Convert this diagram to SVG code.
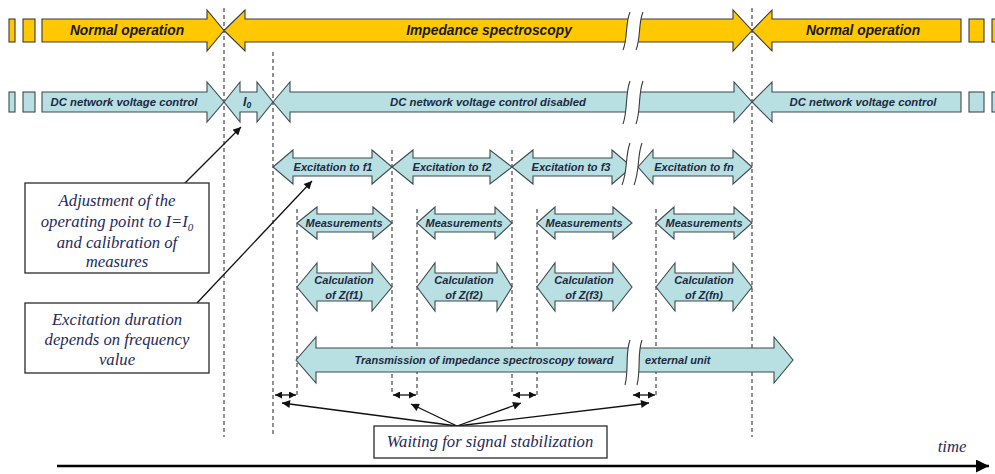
<svg xmlns="http://www.w3.org/2000/svg" width="995" height="474" viewBox="0 0 995 474">
<style>
.y{fill:#ffc800;stroke:#3a3a3a;stroke-width:1.1}
.b{fill:#b8dfe2;stroke:#3f4a4c;stroke-width:1.1}
.gap{fill:#ffffff;stroke:none}
.sl{fill:none;stroke:#3a3a3a;stroke-width:1.1}
.lt{font-family:"Liberation Sans",Arial,sans-serif;font-weight:bold;font-style:italic;text-anchor:middle;dominant-baseline:central}
.ty{font-size:13.8px;fill:#1a1a1a}
.tb{font-size:11.3px;fill:#1c2a44}
.ts{font-size:11px;fill:#1c2a44}
.an{font-family:"Liberation Serif","Times New Roman",serif;font-style:italic;font-size:16.7px;fill:#1f2a5a;text-anchor:middle}
.box{fill:#ffffff;stroke:#2a2a2a;stroke-width:1.3}
.dl{stroke:#222;stroke-width:1;stroke-dasharray:4,3;fill:none}
.ar{stroke:#111;stroke-width:1.3;fill:none}
</style>
<defs>
<marker id="ah" viewBox="0 0 10 10" refX="10" refY="5" markerUnits="userSpaceOnUse" markerWidth="9" markerHeight="8" orient="auto-start-reverse"><path d="M0,0 L10,5 L0,10 Z" fill="#111"/></marker>
<marker id="sh" viewBox="0 0 10 10" refX="10" refY="5" markerUnits="userSpaceOnUse" markerWidth="7" markerHeight="7" orient="auto-start-reverse"><path d="M0,0 L10,5 L0,10 Z" fill="#111"/></marker>
<marker id="th" viewBox="0 0 10 10" refX="10" refY="5" markerUnits="userSpaceOnUse" markerWidth="14" markerHeight="13" orient="auto"><path d="M0,0 L10,5 L0,10 Z" fill="#000"/></marker>
</defs>

<g id="connectors">
<line class="dl" x1="224" y1="8" x2="224" y2="437"/>
<line class="dl" x1="273" y1="52" x2="273" y2="437"/>
<line class="dl" x1="752" y1="8" x2="752" y2="437"/>
<line class="dl" x1="297" y1="209" x2="297" y2="395"/>
<line class="dl" x1="392" y1="150" x2="392" y2="395"/>
<line class="dl" x1="417" y1="209" x2="417" y2="395"/>
<line class="dl" x1="512" y1="150" x2="512" y2="395"/>
<line class="dl" x1="537" y1="209" x2="537" y2="395"/>
<line class="dl" x1="656" y1="209" x2="656" y2="395"/>
<line class="ar" x1="185" y1="183" x2="241" y2="127" marker-end="url(#ah)"/>
<line class="ar" x1="197" y1="303" x2="312" y2="181" marker-end="url(#ah)"/>
<line class="ar" x1="275" y1="395" x2="296" y2="395" marker-start="url(#sh)" marker-end="url(#sh)"/>
<line class="ar" x1="393" y1="395" x2="416" y2="395" marker-start="url(#sh)" marker-end="url(#sh)"/>
<line class="ar" x1="513" y1="395" x2="536" y2="395" marker-start="url(#sh)" marker-end="url(#sh)"/>
<line class="ar" x1="633" y1="395" x2="655" y2="395" marker-start="url(#sh)" marker-end="url(#sh)"/>
<line class="ar" x1="457" y1="426" x2="282" y2="403" marker-end="url(#ah)"/>
<line class="ar" x1="457" y1="426" x2="411" y2="404" marker-end="url(#ah)"/>
<line class="ar" x1="457" y1="426" x2="521" y2="403" marker-end="url(#ah)"/>
<line class="ar" x1="457" y1="426" x2="649" y2="403" marker-end="url(#ah)"/>
<line x1="57" y1="466" x2="989" y2="466" stroke="#000" stroke-width="2.4" marker-end="url(#th)"/>
</g>

<g id="top-row">
<rect class="y" x="9" y="19" width="6" height="23"/>
<rect class="y" x="23" y="19" width="12" height="23"/>
<rect class="y" x="969" y="19" width="15" height="23"/>
<rect class="y" x="992" y="19" width="10" height="23"/>
</g>
<g id="normal-operation-1">
<path class="y" d="M42,19 L207,19 L207,10 L224,30.5 L207,51 L207,42 L42,42 Z"/>
<text class="lt ty" x="127" y="30.5">Normal operation</text>
</g>
<g id="impedance-spectroscopy">
<path class="y" d="M224,30.5 L245,10 L245,19 L733,19 L733,10 L752,30.5 L733,51 L733,42 L245,42 L245,51 Z"/>
<path class="gap" d="M630,12 C625,24 628,38 623,50 L636,50 C641,38 638,24 643,12 Z"/>
<path class="sl" d="M630,12 C625,24 628,38 623,50 M643,12 C638,24 641,38 636,50"/>
<text class="lt ty" x="489" y="30.5">Impedance spectroscopy</text>
</g>
<g id="normal-operation-2">
<path class="y" d="M752,30.5 L772,10 L772,19 L961,19 L961,42 L772,42 L772,51 Z"/>
<text class="lt ty" x="863" y="30.5">Normal operation</text>
</g>

<g id="second-row">
<rect class="b" x="9" y="92" width="6" height="20"/>
<rect class="b" x="23" y="92" width="12" height="20"/>
<rect class="b" x="969" y="92" width="15" height="20"/>
<rect class="b" x="992" y="92" width="10" height="20"/>
</g>
<g id="dc-control-1">
<path class="b" d="M42,92 L207,92 L207,82 L224,102 L207,122 L207,112 L42,112 Z"/>
<text class="lt tb" x="124" y="102">DC network voltage control</text>
</g>
<g id="i0">
<path class="b" d="M224,102 L240,82 L240,92 L257,92 L257,82 L273,102 L257,122 L257,112 L240,112 L240,122 Z"/>
<text class="lt" x="247" y="102" font-size="12.5" fill="#1c2a44">I<tspan font-size="8.5" dy="3">0</tspan></text>
</g>
<g id="dc-control-disabled">
<path class="b" d="M273,102 L290,82 L290,92 L734,92 L734,82 L752,102 L734,122 L734,112 L290,112 L290,122 Z"/>
<path class="gap" d="M630,81 C625,94 628,110 623,124 L636,124 C641,110 638,94 643,81 Z"/>
<path class="sl" d="M630,81 C625,94 628,110 623,124 M643,81 C638,94 641,110 636,124"/>
<text class="lt tb" x="488" y="102">DC network voltage control disabled</text>
</g>
<g id="dc-control-2">
<path class="b" d="M752,102 L772,82 L772,92 L961,92 L961,112 L772,112 L772,122 Z"/>
<text class="lt tb" x="863" y="102">DC network voltage control</text>
</g>

<g id="excitation-f1">
<path class="b" d="M273,167 L293,150 L293,158 L372,158 L372,150 L392,167 L372,184 L372,176 L293,176 L293,184 Z"/>
<text class="lt ts" x="333" y="167">Excitation to f1</text>
</g>
<g id="excitation-f2">
<path class="b" d="M392,167 L413,150 L413,158 L490,158 L490,150 L512,167 L490,184 L490,176 L413,176 L413,184 Z"/>
<text class="lt ts" x="452" y="167">Excitation to f2</text>
</g>
<g id="excitation-f3">
<path class="b" d="M512,167 L533,150 L533,158 L612,158 L612,150 L632,167 L612,184 L612,176 L533,176 L533,184 Z"/>
<text class="lt ts" x="571" y="167">Excitation to f3</text>
</g>
<g id="excitation-fn">
<path class="b" d="M638,167 L653,150 L653,158 L733,158 L733,150 L752,167 L733,184 L733,176 L653,176 L653,184 Z"/>
<path class="gap" d="M630,143 C625,156 628,170 622,185 L634,185 C640,170 637,156 642,143 Z"/>
<path class="sl" d="M630,143 C625,156 628,170 622,185 M642,143 C637,156 640,170 634,185"/>
<text class="lt ts" x="694" y="167">Excitation to fn</text>
</g>

<g id="measurements-f1">
<path class="b" d="M297,223 L317,207 L317,214 L373,214 L373,207 L392,223 L373,239 L373,232 L317,232 L317,239 Z"/>
<text class="lt ts" x="344" y="223">Measurements</text>
</g>
<g id="measurements-f2">
<path class="b" d="M417,223 L435,207 L435,214 L495,214 L495,207 L512,223 L495,239 L495,232 L435,232 L435,239 Z"/>
<text class="lt ts" x="464" y="223">Measurements</text>
</g>
<g id="measurements-f3">
<path class="b" d="M537,223 L555,207 L555,214 L613,214 L613,207 L632,223 L613,239 L613,232 L555,232 L555,239 Z"/>
<text class="lt ts" x="584" y="223">Measurements</text>
</g>
<g id="measurements-fn">
<path class="b" d="M656,223 L674,207 L674,214 L734,214 L734,207 L752,223 L734,239 L734,232 L674,232 L674,239 Z"/>
<text class="lt ts" x="704" y="223">Measurements</text>
</g>

<g id="calculation-f1">
<path class="b" d="M297,287 L317,263 L317,273 L372,273 L372,263 L392,287 L372,311 L372,301 L317,301 L317,311 Z"/>
<text class="lt ts" x="344" y="280">Calculation</text>
<text class="lt ts" x="344" y="295">of Z(f1)</text>
</g>
<g id="calculation-f2">
<path class="b" d="M417,287 L435,263 L435,273 L497,273 L497,263 L512,287 L497,311 L497,301 L435,301 L435,311 Z"/>
<text class="lt ts" x="464" y="280">Calculation</text>
<text class="lt ts" x="464" y="295">of Z(f2)</text>
</g>
<g id="calculation-f3">
<path class="b" d="M537,287 L555,263 L555,273 L613,273 L613,263 L632,287 L613,311 L613,301 L555,301 L555,311 Z"/>
<text class="lt ts" x="584" y="280">Calculation</text>
<text class="lt ts" x="584" y="295">of Z(f3)</text>
</g>
<g id="calculation-fn">
<path class="b" d="M656,287 L675,263 L675,273 L733,273 L733,263 L752,287 L733,311 L733,301 L675,301 L675,311 Z"/>
<text class="lt ts" x="704" y="280">Calculation</text>
<text class="lt ts" x="704" y="295">of Z(fn)</text>
</g>

<g id="transmission">
<path class="b" d="M296,360 L316,337 L316,348 L774,348 L774,337 L793,360 L774,383 L774,372 L316,372 L316,383 Z"/>
<path class="gap" d="M630,340 C625,353 629,370 625,385 L637,385 C641,370 637,353 642,340 Z"/>
<path class="sl" d="M630,340 C625,353 629,370 625,385 M642,340 C637,353 641,370 637,385"/>
<text class="lt ts" x="484" y="360">Transmission of impedance spectroscopy toward</text>
<text class="lt ts" x="645" y="360" style="text-anchor:start">external unit</text>
</g>

<g id="adjustment-note">
<rect class="box" x="25" y="183" width="184" height="90"/>
<text class="an" x="117" y="206">Adjustment of the</text>
<text class="an" x="117" y="227">operating point to I=I<tspan font-size="11" dy="4">0</tspan></text>
<text class="an" x="117" y="248">and calibration of</text>
<text class="an" x="117" y="267">measures</text>
</g>
<g id="excitation-note">
<rect class="box" x="25" y="303" width="184" height="70"/>
<text class="an" x="117" y="325">Excitation duration</text>
<text class="an" x="117" y="345">depends on frequency</text>
<text class="an" x="117" y="365">value</text>
</g>
<g id="waiting-note">
<rect class="box" x="374" y="426" width="233" height="32"/>
<text class="an" x="490" y="447">Waiting for signal stabilization</text>
</g>
<g id="time-label">
<text class="an" x="952" y="452" font-size="16">time</text>
</g>
</svg>
